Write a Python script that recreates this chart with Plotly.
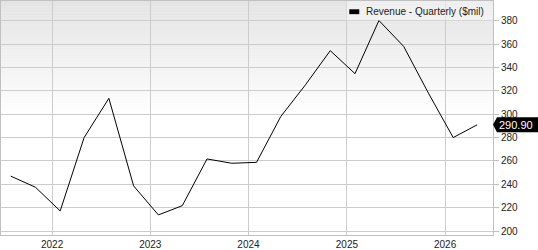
import plotly.graph_objects as go

# ---- data ----
quarter_dates = [
    "2021-07-31", "2021-10-31", "2022-01-31", "2022-04-30", "2022-07-31",
    "2022-10-31", "2023-01-31", "2023-04-30", "2023-07-31", "2023-10-31",
    "2024-01-31", "2024-04-30", "2024-07-31", "2024-10-31", "2025-01-31",
    "2025-04-30", "2025-07-31", "2025-10-31", "2026-01-31", "2026-04-30",
]
revenue = [
    247.0, 237.5, 217.2, 280.0, 313.6,
    238.6, 213.8, 221.7, 261.7, 258.0,
    258.8, 298.0, 325.2, 354.4, 334.7,
    380.2, 358.0, 318.0, 280.0, 290.9,
]
series_name = "Revenue - Quarterly ($mil)"
y_ticks = [200, 220, 240, 260, 280, 300, 320, 340, 360, 380]
x_ticks = ["2022-01-01", "2023-01-01", "2024-01-01", "2025-01-01", "2026-01-01"]
x_tick_labels = ["2022", "2023", "2024", "2025", "2026"]
last_label = "290.90"

W, H = 538, 250
ML, MR, MT, MB = 0, 45, 0, 10
plot_h = H - MT - MB
plot_w = W - ML - MR

FONT = "Liberation Sans, Arial, sans-serif"
GRID = "#cccccc"

fig = go.Figure()
fig.add_trace(go.Scatter(
    x=quarter_dates, y=revenue, mode="lines",
    line=dict(color="#000000", width=1),
    name=series_name, showlegend=False, hoverinfo="x+y",
))

shapes = []
# gradient background (top grey -> white at about half height)
n = 40
grad_px = 120
for i in range(n):
    t0 = i / n
    t1 = (i + 1) / n
    yb = 1 - (t1 * grad_px) / plot_h
    yt = 1 - (t0 * grad_px) / plot_h
    c = int(round(228 + (255 - 228) * (t0 + t1) / 2))
    shapes.append(dict(type="rect", xref="paper", yref="paper",
                       x0=0, x1=1, y0=yb, y1=yt + 0.001,
                       fillcolor=f"rgb({c},{c},{c})", line=dict(width=0),
                       layer="below"))

# legend box
leg_x0 = 346 / plot_w
leg_y0 = 1 - 20 / plot_h
shapes.append(dict(type="rect", xref="paper", yref="paper",
                   x0=leg_x0, x1=1, y0=leg_y0, y1=1,
                   fillcolor="rgba(255,255,255,0.4)", line=dict(width=0),
                   layer="above"))
# legend marker
shapes.append(dict(type="rect", xref="paper", yref="paper",
                   x0=349 / plot_w, x1=359 / plot_w,
                   y0=1 - 13.5 / plot_h, y1=1 - 8.5 / plot_h,
                   fillcolor="#000000", line=dict(width=0), layer="above"))

# last value tag (pointer)
shapes.append(dict(type="path", xref="paper", yref="y",
                   xsizemode="pixel", ysizemode="pixel",
                   xanchor=1, yanchor=revenue[-1],
                   path="M 0,0 L 4,7.5 L 46,7.5 L 46,-7.5 L 4,-7.5 Z",
                   fillcolor="#000000", line=dict(width=0), layer="above"))

annotations = [
    dict(text=series_name, xref="paper", yref="paper",
         x=364 / plot_w, y=1 - 11 / plot_h, xanchor="left", yanchor="middle",
         showarrow=False, font=dict(family=FONT, size=10, color="#222222")),
    dict(text=last_label, xref="paper", yref="y",
         x=1, y=revenue[-1], xshift=4, xanchor="left", yanchor="middle",
         showarrow=False, font=dict(family=FONT, size=11, color="#ffffff")),
]

fig.update_layout(
    width=W, height=H, autosize=False,
    margin=dict(l=ML, r=MR, t=MT, b=MB, pad=0),
    paper_bgcolor="#ffffff", plot_bgcolor="#ffffff",
    showlegend=False,
    shapes=shapes, annotations=annotations,
    font=dict(family=FONT, size=10, color="#222222"),
    xaxis=dict(
        type="date", range=["2021-06-25", "2026-06-28"],
        tickvals=x_ticks, ticktext=x_tick_labels,
        showgrid=True, gridcolor=GRID, gridwidth=1,
        showline=True, linecolor="#c0c0c0", linewidth=1, mirror=True,
        ticks="", zeroline=False,
        tickfont=dict(family=FONT, size=10, color="#222222"),
    ),
    yaxis=dict(
        side="right", range=[196.6, 396.9],
        tickvals=y_ticks,
        showgrid=True, gridcolor=GRID, gridwidth=1,
        showline=True, linecolor="#c0c0c0", linewidth=1, mirror=True,
        ticks="outside", ticklen=5, tickcolor="#c0c0c0", tickwidth=1,
        zeroline=False,
        tickfont=dict(family=FONT, size=10, color="#222222"),
    ),
)

fig.write_html("out.html")
